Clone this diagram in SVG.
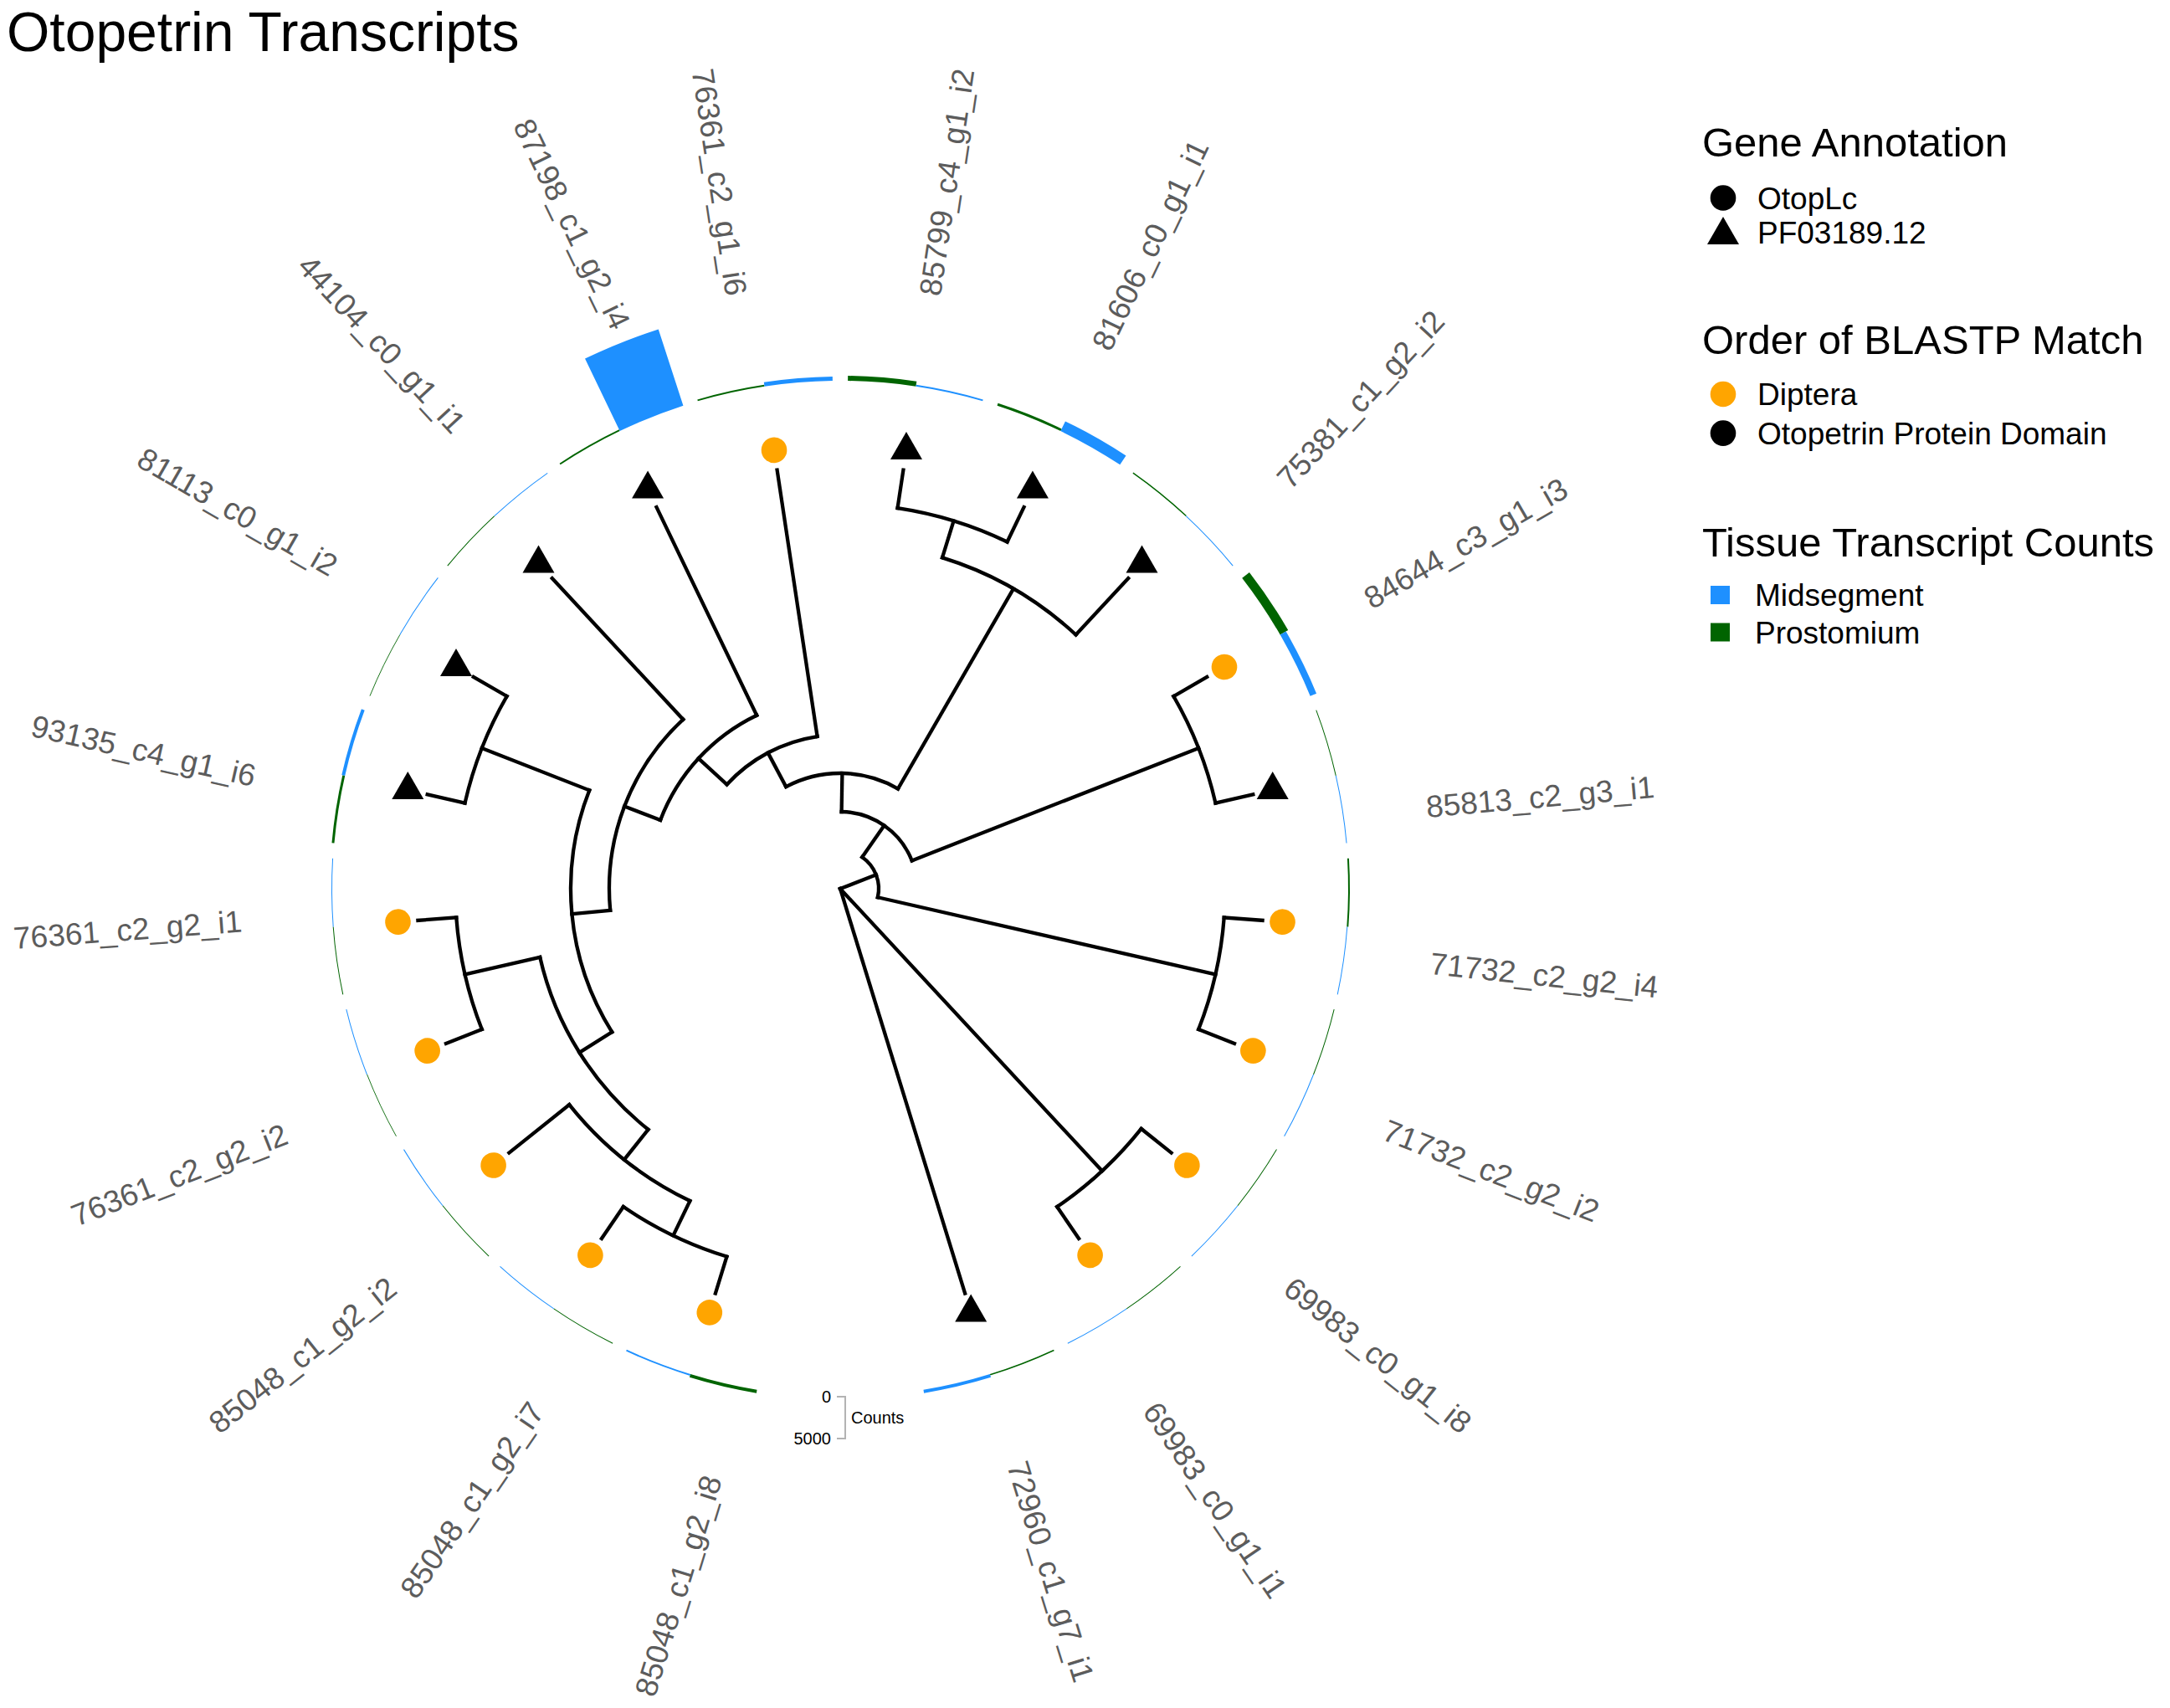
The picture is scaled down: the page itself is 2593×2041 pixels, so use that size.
<svg xmlns="http://www.w3.org/2000/svg" xmlns:xlink="http://www.w3.org/1999/xlink" width="2593" height="2041" viewBox="0 0 2593 2041">
<style>
.br{fill:none;stroke:#000;stroke-width:4.3;stroke-linecap:square}
.lab{font-family:"Liberation Sans",Arial,sans-serif;font-size:37px;fill:#5c5c5c}
.gr{fill:none;stroke:#006400}
.bl{fill:none;stroke:#1E90FF}
.lt{font-family:"Liberation Sans",Arial,sans-serif;font-size:49px;fill:#000}
.li{font-family:"Liberation Sans",Arial,sans-serif;font-size:37px;fill:#000}
.sc{font-family:"Liberation Sans",Arial,sans-serif;font-size:20px;fill:#000}
</style>
<defs>
<path id="tri" d="M0,-22 L19,11 L-19,11 Z"/>
<circle id="dot" r="15.3"/>
</defs>
<rect width="2593" height="2041" fill="#fff"/>
<text x="8" y="61" font-family="Liberation Sans, Arial, sans-serif" font-size="66" fill="#000">Otopetrin Transcripts</text>

<g transform="translate(1004,1062)">
<g id="connectors">
<circle class="br" r="46" stroke-dasharray="54.65 9999" transform="rotate(-55.21)"/>
<circle class="br" r="92" stroke-dasharray="108.5 9999" transform="rotate(-89)"/>
<circle class="br" r="138" stroke-dasharray="139.67 9999" transform="rotate(-117.99)"/>
<circle class="br" r="184" stroke-dasharray="124.73 9999" transform="rotate(222.59)"/>
<circle class="br" r="230" stroke-dasharray="174.22 9999" transform="rotate(200.89)"/>
<circle class="br" r="276" stroke-dasharray="252.9 9999" transform="rotate(174.64)"/>
<circle class="br" r="322" stroke-dasharray="301.06 9999" transform="rotate(147.86)"/>
<circle class="br" r="368" stroke-dasharray="247.73 9999" transform="rotate(128.57)"/>
<circle class="br" r="414" stroke-dasharray="185.84 9999" transform="rotate(115.71)"/>
<circle class="br" r="460" stroke-dasharray="137.69 9999" transform="rotate(107.14)"/>
<circle class="br" r="460" stroke-dasharray="137.61 9999" transform="rotate(158.57)"/>
<circle class="br" r="460" stroke-dasharray="137.61 9999" transform="rotate(192.86)"/>
<circle class="br" r="414" stroke-dasharray="185.84 9999" transform="rotate(-72.86)"/>
<circle class="br" r="460" stroke-dasharray="137.61 9999" transform="rotate(-81.43)"/>
<circle class="br" r="460" stroke-dasharray="137.61 9999" transform="rotate(-30)"/>
<circle class="br" r="460" stroke-dasharray="137.61 9999" transform="rotate(4.29)"/>
<circle class="br" r="460" stroke-dasharray="137.61 9999" transform="rotate(38.57)"/>
<line class="br" x1="0" y1="0" x2="46" y2="0" transform="rotate(-21.18)"/>
<line class="br" x1="0" y1="0" x2="506" y2="0" transform="rotate(72.86)"/>
<line class="br" x1="0" y1="0" x2="460" y2="0" transform="rotate(47.14)"/>
<line class="br" x1="46" y1="0" x2="92" y2="0" transform="rotate(-55.21)"/>
<line class="br" x1="46" y1="0" x2="460" y2="0" transform="rotate(12.86)"/>
<line class="br" x1="92" y1="0" x2="138" y2="0" transform="rotate(-89)"/>
<line class="br" x1="92" y1="0" x2="460" y2="0" transform="rotate(-21.43)"/>
<line class="br" x1="138" y1="0" x2="184" y2="0" transform="rotate(242.01)"/>
<line class="br" x1="138" y1="0" x2="414" y2="0" transform="rotate(-60)"/>
<line class="br" x1="184" y1="0" x2="506" y2="0" transform="rotate(261.43)"/>
<line class="br" x1="184" y1="0" x2="230" y2="0" transform="rotate(222.59)"/>
<line class="br" x1="230" y1="0" x2="506" y2="0" transform="rotate(244.29)"/>
<line class="br" x1="230" y1="0" x2="276" y2="0" transform="rotate(200.89)"/>
<line class="br" x1="276" y1="0" x2="506" y2="0" transform="rotate(227.14)"/>
<line class="br" x1="276" y1="0" x2="322" y2="0" transform="rotate(174.64)"/>
<line class="br" x1="322" y1="0" x2="460" y2="0" transform="rotate(201.43)"/>
<line class="br" x1="322" y1="0" x2="368" y2="0" transform="rotate(147.86)"/>
<line class="br" x1="368" y1="0" x2="460" y2="0" transform="rotate(167.14)"/>
<line class="br" x1="368" y1="0" x2="414" y2="0" transform="rotate(128.57)"/>
<line class="br" x1="414" y1="0" x2="506" y2="0" transform="rotate(141.43)"/>
<line class="br" x1="414" y1="0" x2="460" y2="0" transform="rotate(115.71)"/>
<line class="br" x1="460" y1="0" x2="506" y2="0" transform="rotate(124.29)"/>
<line class="br" x1="460" y1="0" x2="506" y2="0" transform="rotate(107.14)"/>
<line class="br" x1="460" y1="0" x2="506" y2="0" transform="rotate(175.71)"/>
<line class="br" x1="460" y1="0" x2="506" y2="0" transform="rotate(158.57)"/>
<line class="br" x1="460" y1="0" x2="506" y2="0" transform="rotate(210)"/>
<line class="br" x1="460" y1="0" x2="506" y2="0" transform="rotate(192.86)"/>
<line class="br" x1="414" y1="0" x2="460" y2="0" transform="rotate(-72.86)"/>
<line class="br" x1="414" y1="0" x2="506" y2="0" transform="rotate(-47.14)"/>
<line class="br" x1="460" y1="0" x2="506" y2="0" transform="rotate(-81.43)"/>
<line class="br" x1="460" y1="0" x2="506" y2="0" transform="rotate(-64.29)"/>
<line class="br" x1="460" y1="0" x2="506" y2="0" transform="rotate(-30)"/>
<line class="br" x1="460" y1="0" x2="506" y2="0" transform="rotate(-12.86)"/>
<line class="br" x1="460" y1="0" x2="506" y2="0" transform="rotate(4.29)"/>
<line class="br" x1="460" y1="0" x2="506" y2="0" transform="rotate(21.43)"/>
<line class="br" x1="460" y1="0" x2="506" y2="0" transform="rotate(38.57)"/>
<line class="br" x1="460" y1="0" x2="506" y2="0" transform="rotate(55.71)"/>
</g>

<g id="tip-85799_c4_g1_i2">
<circle class="gr" r="610" stroke-width="6" stroke-dasharray="82.08 9999" transform="rotate(-89.14)"/>
<circle class="bl" r="608" stroke-width="2" stroke-dasharray="81.81 9999" transform="rotate(-81.43)"/>
<use href="#tri" transform="rotate(-81.43) translate(530,0) rotate(81.43)"/>
<text class="lab" transform="rotate(-81.43)" x="717" dy="0.35em">85799_c4_g1_i2</text>
</g>
<g id="tip-81606_c0_g1_i1">
<circle class="gr" r="608.5" stroke-width="3" stroke-dasharray="81.88 9999" transform="rotate(-72)"/>
<circle class="bl" r="613.5" stroke-width="13" stroke-dasharray="82.55 9999" transform="rotate(-64.29)"/>
<use href="#tri" transform="rotate(-64.29) translate(530,0) rotate(64.29)"/>
<text class="lab" transform="rotate(-64.29)" x="717" dy="0.35em">81606_c0_g1_i1</text>
</g>
<g id="tip-75381_c1_g2_i2">
<circle class="gr" r="607.75" stroke-width="1.5" stroke-dasharray="81.78 9999" transform="rotate(-54.85)"/>
<circle class="bl" r="607.5" stroke-width="1" stroke-dasharray="81.74 9999" transform="rotate(-47.14)"/>
<use href="#tri" transform="rotate(-47.14) translate(530,0) rotate(47.14)"/>
<text class="lab" transform="translate(41,41) rotate(-47.14)" x="717" dy="0.35em">75381_c1_g2_i2</text>
</g>
<g id="tip-84644_c3_g1_i3">
<circle class="gr" r="612.5" stroke-width="11" stroke-dasharray="82.42 9999" transform="rotate(-37.71)"/>
<circle class="bl" r="611" stroke-width="8" stroke-dasharray="82.22 9999" transform="rotate(-30)"/>
<use href="#dot" fill="#FFA500" transform="rotate(-30) translate(530,0)"/>
<text class="lab" transform="translate(8,14) rotate(-30)" x="717" dy="0.35em">84644_c3_g1_i3</text>
</g>
<g id="tip-85813_c2_g3_i1">
<circle class="gr" r="607.5" stroke-width="1" stroke-dasharray="81.74 9999" transform="rotate(-20.57)"/>
<circle class="bl" r="607.5" stroke-width="1" stroke-dasharray="81.74 9999" transform="rotate(-12.86)"/>
<use href="#tri" transform="rotate(-12.86) translate(530,0) rotate(12.86)"/>
<text class="lab" transform="translate(700,-98) rotate(-5)" x="0" dy="0.35em">85813_c2_g3_i1</text>
</g>
<g id="tip-71732_c2_g2_i4">
<circle class="gr" r="608" stroke-width="2" stroke-dasharray="81.81 9999" transform="rotate(-3.42)"/>
<circle class="bl" r="607.5" stroke-width="1" stroke-dasharray="81.74 9999" transform="rotate(4.29)"/>
<use href="#dot" fill="#FFA500" transform="rotate(4.29) translate(530,0)"/>
<text class="lab" transform="translate(-8,14) rotate(6)" x="717" dy="0.35em">71732_c2_g2_i4</text>
</g>
<g id="tip-71732_c2_g2_i2">
<circle class="gr" r="607.5" stroke-width="1" stroke-dasharray="81.74 9999" transform="rotate(13.72)"/>
<circle class="bl" r="607.5" stroke-width="1" stroke-dasharray="81.74 9999" transform="rotate(21.43)"/>
<use href="#dot" fill="#FFA500" transform="rotate(21.43) translate(530,0)"/>
<text class="lab" transform="translate(-17,25) rotate(21.43)" x="717" dy="0.35em">71732_c2_g2_i2</text>
</g>
<g id="tip-69983_c0_g1_i8">
<circle class="gr" r="607.5" stroke-width="1" stroke-dasharray="81.74 9999" transform="rotate(30.86)"/>
<circle class="bl" r="607.5" stroke-width="1" stroke-dasharray="81.74 9999" transform="rotate(38.57)"/>
<use href="#dot" fill="#FFA500" transform="rotate(38.57) translate(530,0)"/>
<text class="lab" transform="translate(-25,25) rotate(38.57)" x="717" dy="0.35em">69983_c0_g1_i8</text>
</g>
<g id="tip-69983_c0_g1_i1">
<circle class="gr" r="607.5" stroke-width="1" stroke-dasharray="81.74 9999" transform="rotate(48)"/>
<circle class="bl" r="607.5" stroke-width="1" stroke-dasharray="81.74 9999" transform="rotate(55.71)"/>
<use href="#dot" fill="#FFA500" transform="rotate(55.71) translate(530,0)"/>
<text class="lab" transform="translate(-33,25) rotate(55.71)" x="717" dy="0.35em">69983_c0_g1_i1</text>
</g>
<g id="tip-72960_c1_g7_i1">
<circle class="gr" r="607.75" stroke-width="1.5" stroke-dasharray="81.78 9999" transform="rotate(65.15)"/>
<circle class="bl" r="609" stroke-width="4" stroke-dasharray="81.95 9999" transform="rotate(72.86)"/>
<use href="#tri" transform="rotate(72.86) translate(530,0) rotate(-72.86)"/>
<text class="lab" transform="rotate(72.86)" x="717" dy="0.35em">72960_c1_g7_i1</text>
</g>
<g id="tip-85048_c1_g2_i8">
<circle class="gr" r="609" stroke-width="4" stroke-dasharray="81.95 9999" transform="rotate(99.43)"/>
<circle class="bl" r="608" stroke-width="2" stroke-dasharray="81.81 9999" transform="rotate(107.14)"/>
<use href="#dot" fill="#FFA500" transform="rotate(107.14) translate(530,0)"/>
<text class="lab" text-anchor="end" transform="translate(58,17) rotate(-72.86)" x="-717" dy="0.35em">85048_c1_g2_i8</text>
</g>
<g id="tip-85048_c1_g2_i7">
<circle class="gr" r="607.5" stroke-width="1" stroke-dasharray="81.74 9999" transform="rotate(116.58)"/>
<circle class="bl" r="607.5" stroke-width="1" stroke-dasharray="81.74 9999" transform="rotate(124.29)"/>
<use href="#dot" fill="#FFA500" transform="rotate(124.29) translate(530,0)"/>
<text class="lab" text-anchor="end" transform="translate(41,25) rotate(-55.71)" x="-717" dy="0.35em">85048_c1_g2_i7</text>
</g>
<g id="tip-85048_c1_g2_i2">
<circle class="gr" r="607.5" stroke-width="1" stroke-dasharray="81.74 9999" transform="rotate(133.72)"/>
<circle class="bl" r="607.5" stroke-width="1" stroke-dasharray="81.74 9999" transform="rotate(141.43)"/>
<use href="#dot" fill="#FFA500" transform="rotate(141.43) translate(530,0)"/>
<text class="lab" text-anchor="end" transform="translate(25,25) rotate(-38.57)" x="-717" dy="0.35em">85048_c1_g2_i2</text>
</g>
<g id="tip-76361_c2_g2_i2">
<circle class="gr" r="607.4" stroke-width="0.8" stroke-dasharray="81.73 9999" transform="rotate(150.86)"/>
<circle class="bl" r="607.5" stroke-width="1" stroke-dasharray="81.74 9999" transform="rotate(158.57)"/>
<use href="#dot" fill="#FFA500" transform="rotate(158.57) translate(530,0)"/>
<text class="lab" text-anchor="end" transform="translate(5,30) rotate(-21.43)" x="-717" dy="0.35em">76361_c2_g2_i2</text>
</g>
<g id="tip-76361_c2_g2_i1">
<circle class="gr" r="607.5" stroke-width="1" stroke-dasharray="81.74 9999" transform="rotate(168)"/>
<circle class="bl" r="607.5" stroke-width="1" stroke-dasharray="81.74 9999" transform="rotate(175.71)"/>
<use href="#dot" fill="#FFA500" transform="rotate(175.71) translate(530,0)"/>
<text class="lab" text-anchor="end" transform="translate(0,-15) rotate(-4.29)" x="-717" dy="0.35em">76361_c2_g2_i1</text>
</g>
<g id="tip-93135_c4_g1_i6">
<circle class="gr" r="608.5" stroke-width="3" stroke-dasharray="81.88 9999" transform="rotate(185.15)"/>
<circle class="bl" r="609" stroke-width="4" stroke-dasharray="81.95 9999" transform="rotate(192.86)"/>
<use href="#tri" transform="rotate(192.86) translate(530,0) rotate(-192.86)"/>
<text class="lab" text-anchor="end" transform="translate(0,25) rotate(12.86)" x="-717" dy="0.35em">93135_c4_g1_i6</text>
</g>
<g id="tip-81113_c0_g1_i2">
<circle class="gr" r="607.4" stroke-width="0.8" stroke-dasharray="81.73 9999" transform="rotate(202.29)"/>
<circle class="bl" r="607.5" stroke-width="1" stroke-dasharray="81.74 9999" transform="rotate(210)"/>
<use href="#tri" transform="rotate(210) translate(530,0) rotate(-210)"/>
<text class="lab" text-anchor="end" transform="translate(17,-25) rotate(30)" x="-717" dy="0.35em">81113_c0_g1_i2</text>
</g>
<g id="tip-44104_c0_g1_i1">
<circle class="gr" r="607.5" stroke-width="1" stroke-dasharray="81.74 9999" transform="rotate(219.43)"/>
<circle class="bl" r="607.5" stroke-width="1" stroke-dasharray="81.74 9999" transform="rotate(227.14)"/>
<use href="#tri" transform="rotate(227.14) translate(530,0) rotate(-227.14)"/>
<text class="lab" text-anchor="end" transform="translate(33,-25) rotate(47.14)" x="-717" dy="0.35em">44104_c0_g1_i1</text>
</g>
<g id="tip-87198_c1_g2_i4">
<circle class="gr" r="608" stroke-width="2" stroke-dasharray="81.81 9999" transform="rotate(236.58)"/>
<circle class="bl" r="655" stroke-width="96" stroke-dasharray="88.14 9999" transform="rotate(244.29)"/>
<use href="#tri" transform="rotate(244.29) translate(530,0) rotate(-244.29)"/>
<text class="lab" text-anchor="end" transform="translate(50,-25) rotate(64.29)" x="-717" dy="0.35em">87198_c1_g2_i4</text>
</g>
<g id="tip-76361_c2_g1_i6">
<circle class="gr" r="608" stroke-width="2" stroke-dasharray="81.81 9999" transform="rotate(253.72)"/>
<circle class="bl" r="609.5" stroke-width="5" stroke-dasharray="82.01 9999" transform="rotate(261.43)"/>
<use href="#dot" fill="#FFA500" transform="rotate(261.43) translate(530,0)"/>
<text class="lab" text-anchor="end" transform="translate(-17,0) rotate(81.43)" x="-717" dy="0.35em">76361_c2_g1_i6</text>
</g>
</g>

<g id="scale-bar">
<path d="M1000,1669 H1010 V1719 H1000" fill="none" stroke="#b3b3b3" stroke-width="2"/>
<text class="sc" x="993" y="1676" text-anchor="end">0</text>
<text class="sc" x="993" y="1726" text-anchor="end">5000</text>
<text class="sc" x="1017" y="1701">Counts</text>
</g>

<g id="legend">
<text class="lt" x="2034" y="187">Gene Annotation</text>
<use href="#dot" fill="#000" transform="translate(2059,236.5)"/>
<text class="li" x="2100" y="249.5">OtopLc</text>
<use href="#tri" fill="#000" transform="translate(2059,281)"/>
<text class="li" x="2100" y="291">PF03189.12</text>
<text class="lt" x="2034" y="423">Order of BLASTP Match</text>
<use href="#dot" fill="#FFA500" transform="translate(2059,471)"/>
<text class="li" x="2100" y="484">Diptera</text>
<use href="#dot" fill="#000" transform="translate(2059,517.6)"/>
<text class="li" x="2100" y="530.6">Otopetrin Protein Domain</text>
<text class="lt" x="2034" y="665">Tissue Transcript Counts</text>
<rect x="2044" y="700" width="23" height="22" fill="#1E90FF"/>
<text class="li" x="2097" y="724">Midsegment</text>
<rect x="2044" y="744.5" width="23" height="22" fill="#006400"/>
<text class="li" x="2097" y="768.7">Prostomium</text>
</g>
</svg>
